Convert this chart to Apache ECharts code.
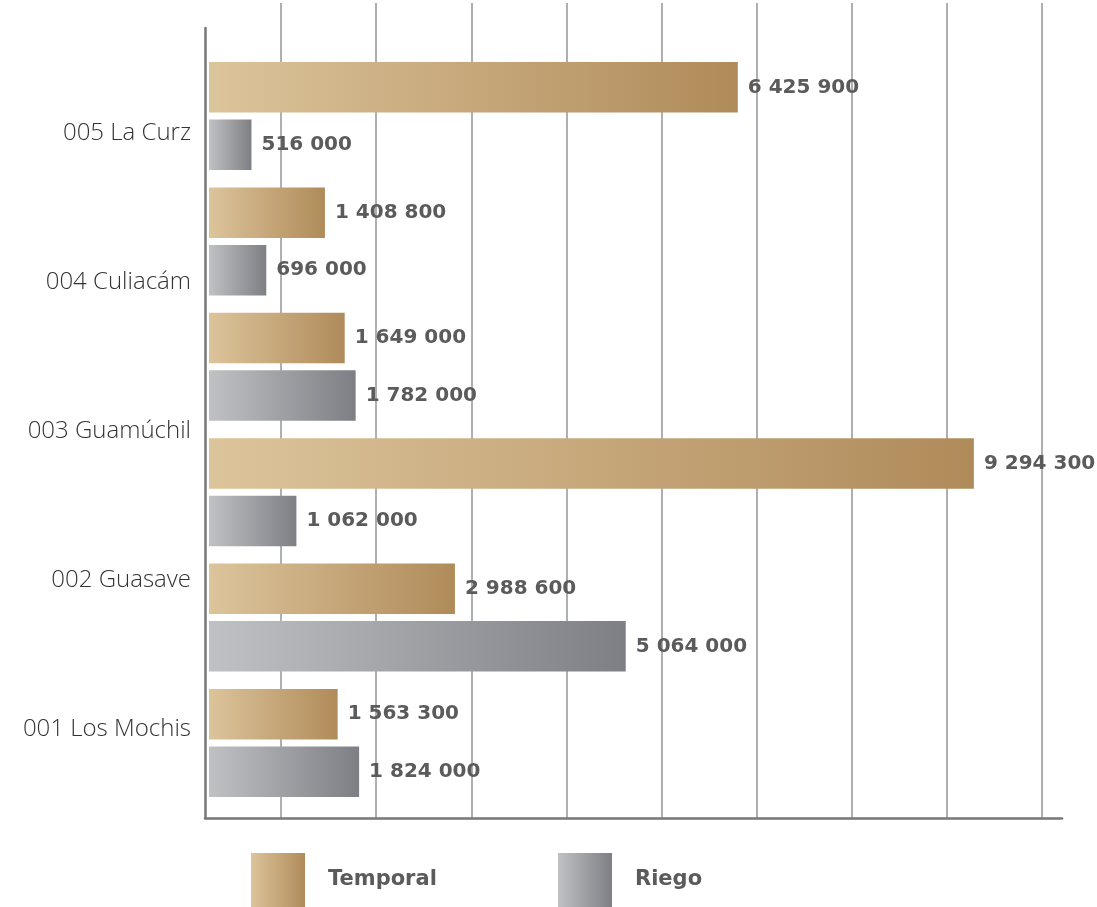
<!DOCTYPE html>
<html>
<head>
<meta charset="utf-8">
<script src="https://cdn.jsdelivr.net/npm/echarts@6/dist/echarts.min.js"></script>
<style>html,body{margin:0;padding:0;background:#fff}#c{width:1097px;height:907px}</style>
</head>
<body>
<div id="c"></div>
<script>
// Category labels shown on the left (top to bottom)
const districtLabels = ['005 La Curz', '004 Culiacám', '003 Guamúchil', '002 Guasave', '001 Los Mochis'];
// Bar groups as drawn (top to bottom)
const barGroups = ['G1', 'G2', 'G3', 'G4', 'G5', 'G6'];
const temporal = [6425900, 1408800, 1649000, 9294300, 2988600, 1563300];
const riego = [516000, 696000, 1782000, 1062000, 5064000, 1824000];
const seriesNames = ['Temporal', 'Riego'];

const chart = echarts.init(document.getElementById('c'), null, {renderer: 'canvas'});
const G = echarts.graphic;
const goldGrad = new G.LinearGradient(0, 0, 1, 0, [{offset: 0, color: '#dcc49b'}, {offset: 1, color: '#b08b5a'}]);
const greyGrad = new G.LinearGradient(0, 0, 1, 0, [{offset: 0, color: '#c0c1c4'}, {offset: 1, color: '#7e7f84'}]);
const fmt = v => String(v).replace(/\B(?=(\d{3})+(?!\d))/g, ' ');
const valueLabel = {
  show: true, position: 'right', distance: 10,
  fontFamily: 'DejaVu Sans', fontWeight: 'bold', fontSize: 20, color: '#5b5b5b',
  formatter: p => fmt(p.value)
};

chart.setOption({
  animation: false,
  backgroundColor: '#fff',
  grid: [
    {left: 185.875, right: 35, top: 3, bottom: 89},
    {left: 205, right: 35, top: 28, bottom: 89},
    {left: 209, right: 35, top: 53.4, bottom: 101.4},
    {left: 205, right: 35, top: 58.5, bottom: 103.5}
  ],
  xAxis: [
    {gridIndex: 0, type: 'value', min: 0, max: 876.125, interval: 95.125,
     axisLine: {show: false}, axisTick: {show: false}, axisLabel: {show: false},
     splitLine: {show: true, showMinLine: false, showMaxLine: false, lineStyle: {color: '#adb0b3', width: 2}}},
    {gridIndex: 1, type: 'value', min: 0, max: 1,
     axisLine: {show: true, lineStyle: {color: '#777777', width: 2.5}}, axisTick: {show: false}, axisLabel: {show: false}, splitLine: {show: false}},
    {gridIndex: 2, type: 'value', min: 0, max: 10365000, show: false, splitLine: {show: false}},
    {gridIndex: 3, type: 'value', show: false, splitLine: {show: false}}
  ],
  yAxis: [
    {gridIndex: 0, type: 'value', show: false, splitLine: {show: false}},
    {gridIndex: 1, type: 'value', min: 0, max: 1,
     axisLine: {show: true, lineStyle: {color: '#777777', width: 2.5}}, axisTick: {show: false}, axisLabel: {show: false}, splitLine: {show: false}},
    {gridIndex: 2, type: 'category', data: barGroups, inverse: true, show: false},
    {gridIndex: 3, type: 'category', data: districtLabels, inverse: true,
     axisLine: {show: false}, axisTick: {show: false},
     axisLabel: {margin: 14, color: '#333333', fontFamily: 'Open Sans', fontWeight: 300, fontSize: 24}}
  ],
  legend: [
    {data: [seriesNames[0]], left: 251, top: 853, padding: 0, itemWidth: 54, itemHeight: 54, icon: 'rect',
     textStyle: {fontFamily: 'DejaVu Sans', fontWeight: 'bold', fontSize: 21, color: '#5b5b5b', padding: [0, 0, 0, 18]}},
    {data: [seriesNames[1]], left: 558, top: 853, padding: 0, itemWidth: 54, itemHeight: 54, icon: 'rect',
     textStyle: {fontFamily: 'DejaVu Sans', fontWeight: 'bold', fontSize: 21, color: '#5b5b5b', padding: [0, 0, 0, 18]}}
  ],
  series: [
    {name: seriesNames[0], type: 'bar', xAxisIndex: 2, yAxisIndex: 2, data: temporal,
     barWidth: 50.5, barGap: '14%', itemStyle: {color: goldGrad}, label: valueLabel},
    {name: seriesNames[1], type: 'bar', xAxisIndex: 2, yAxisIndex: 2, data: riego,
     barWidth: 50.5, barGap: '14%', itemStyle: {color: greyGrad}, label: valueLabel}
  ]
});
</script>
</body>
</html>
